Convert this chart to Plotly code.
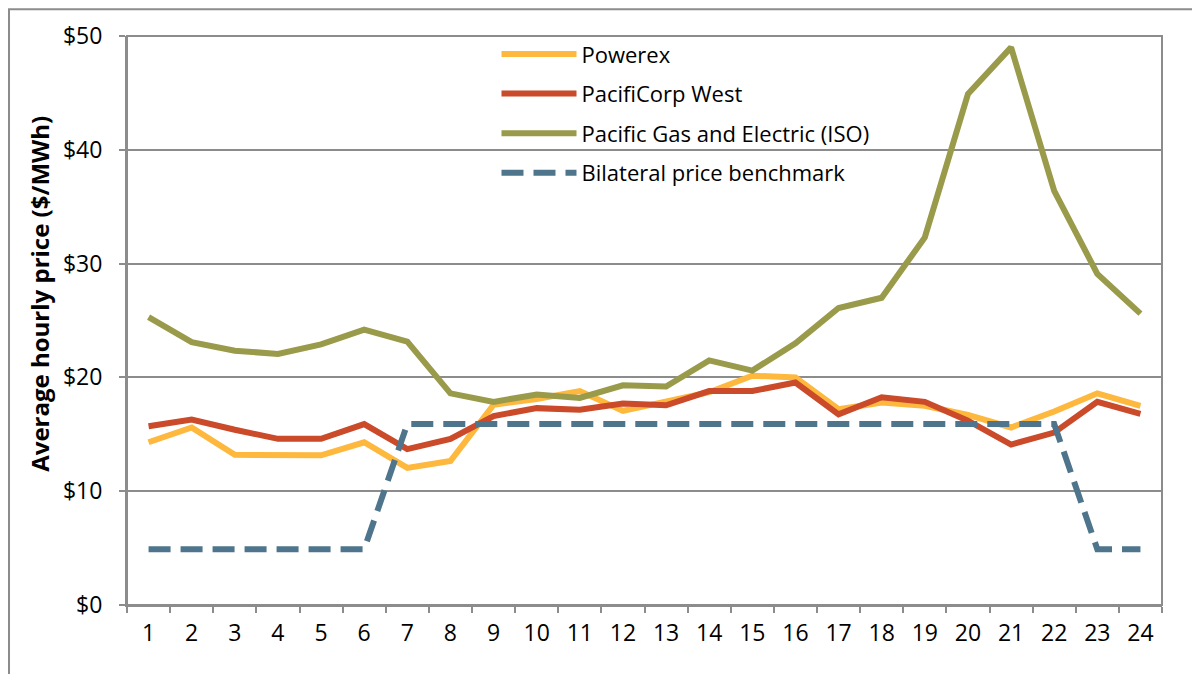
import plotly.graph_objects as go

hours = [str(h) for h in range(1, 25)]
powerex = [14.3, 15.6, 13.2, 13.2, 13.15, 14.3, 12.05, 12.65, 17.6, 18.1, 18.8, 17.05,
           17.9, 18.7, 20.15, 20.0, 17.2, 17.8, 17.5, 16.7, 15.6, 17.0, 18.6, 17.5]
pacificorp = [15.7, 16.3, 15.4, 14.6, 14.6, 15.9, 13.7, 14.6, 16.6, 17.3, 17.15, 17.7,
              17.55, 18.8, 18.8, 19.55, 16.75, 18.25, 17.85, 16.2, 14.1, 15.15, 17.85, 16.8]
pge = [25.3, 23.1, 22.35, 22.06, 22.9, 24.2, 23.15, 18.6, 17.85, 18.5, 18.2, 19.3,
       19.2, 21.5, 20.6, 23.0, 26.1, 27.0, 32.3, 44.9, 49.0, 36.4, 29.1, 25.6]
bilateral = [4.9, 4.9, 4.9, 4.9, 4.9, 4.9, 15.9, 15.9, 15.9, 15.9, 15.9, 15.9,
             15.9, 15.9, 15.9, 15.9, 15.9, 15.9, 15.9, 15.9, 15.9, 15.9, 4.9, 4.9]
y_ticks = [0, 10, 20, 30, 40, 50]
y_tick_labels = ["$0", "$10", "$20", "$30", "$40", "$50"]
y_title = "Average hourly price ($/MWh)"

FONT = "Open Sans, Lato, sans-serif"
GRID = "#8C8C8C"

fig = go.Figure()
series = [
    ("Powerex", powerex, "#FDB83D", "solid"),
    ("PacifiCorp West", pacificorp, "#CA4A2A", "solid"),
    ("Pacific Gas and Electric (ISO)", pge, "#999B4A", "solid"),
    ("Bilateral price benchmark", bilateral, "#4E758B", "22px,10px"),
]
for name, vals, color, dash in series:
    fig.add_trace(go.Scatter(
        x=hours, y=vals, name=name, mode="lines", legendgroup=name,
        line=dict(color=color, width=6, dash=dash),
    ))

# page body has an 8px margin, so margins are compensated
fig.update_layout(
    width=1200, height=674,
    margin=dict(l=119, r=46, t=28, b=77, autoexpand=False),
    plot_bgcolor="white", paper_bgcolor="white",
    font=dict(family=FONT, size=23, color="#000000"),
    showlegend=True,
    legend=dict(
        x=0.357, y=1.005, xanchor="left", yanchor="top",
        bgcolor="rgba(0,0,0,0)", font=dict(family=FONT, size=22),
        itemwidth=75, tracegroupgap=8,
    ),
    xaxis=dict(
        type="category", range=[-0.5, 23.5], showgrid=False,
        showline=True, linecolor=GRID, linewidth=2,
        ticks="outside", ticklen=6, tickcolor=GRID, tickwidth=2,
        tickson="boundaries", automargin=False, ticklabelstandoff=6,
        tickfont=dict(family=FONT, size=23),
    ),
    yaxis=dict(
        range=[0, 50], tickvals=y_ticks, ticktext=y_tick_labels,
        showgrid=True, gridcolor=GRID, gridwidth=1.5,
        showline=True, linecolor=GRID, linewidth=2,
        ticks="outside", ticklen=6, tickcolor=GRID, tickwidth=2,
        tickfont=dict(family=FONT, size=23), zeroline=False,
        automargin=False, ticklabelstandoff=12,
    ),
    annotations=[dict(
        text="<b>" + y_title + "</b>", xref="paper", yref="paper",
        x=-0.084, y=0.547, xanchor="center", yanchor="middle",
        textangle=-90, showarrow=False,
        font=dict(family=FONT, size=24, color="#000000"),
    )],
)

# plot-area box (top and right edges)
fig.add_shape(type="rect", xref="paper", yref="paper", x0=0, y0=0, x1=1, y1=1,
              line=dict(color=GRID, width=2), layer="above")
# outer chart frame
fig.add_shape(type="rect", xref="paper", yref="paper",
              x0=-0.114, y0=-0.3, x1=1.2, y1=1.047,
              line=dict(color=GRID, width=2), layer="below")

fig.write_html("out.html")
